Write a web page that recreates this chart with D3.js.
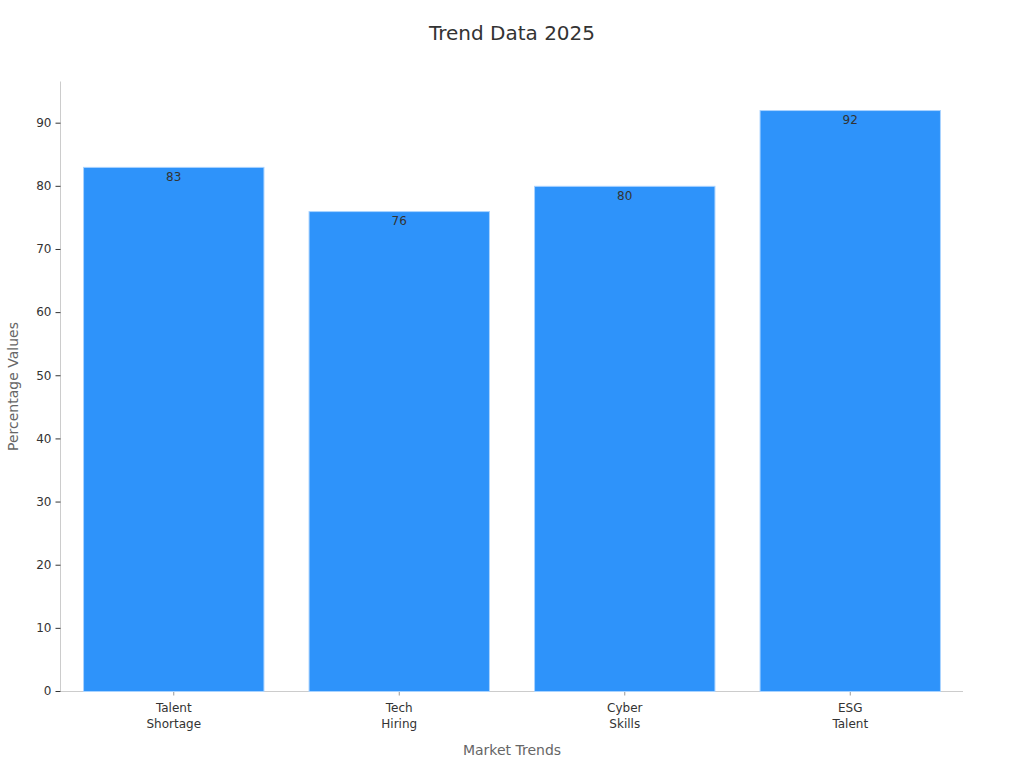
<!DOCTYPE html>
<html><head><meta charset="utf-8">
<script src="https://cdn.jsdelivr.net/npm/d3@7"></script>
<style>body{margin:0;background:#fff;font-family:"DejaVu Sans",sans-serif}</style>
</head><body><svg id="c" width="1024" height="768"></svg>
<script>
const categories = [["Talent","Shortage"],["Tech","Hiring"],["Cyber","Skills"],["ESG","Talent"]];
const values = [83, 76, 80, 92];
const yTicks = [0,10,20,30,40,50,60,70,80,90];
const title = "Trend Data 2025";
const xTitle = "Market Trends";
const yTitle = "Percentage Values";

const svg = d3.select("#c");
const m = {l:61, r:61, t:81.5, b:76.5};
const W = 1024, H = 768;
const names = categories.map(c => c.join(" "));
const x = d3.scaleBand().domain(names).range([m.l, W-m.r]).paddingInner(0.2).paddingOuter(0.1);
const y = d3.scaleLinear().domain([0, 96.6]).range([H-m.b, m.t]);

svg.append("text").attr("x", 512).attr("y", 40).attr("text-anchor","middle")
  .attr("font-size", 20).attr("fill","#333").text(title);

// axes
const ya = svg.append("g").attr("transform",`translate(${m.l - 0.5},0)`)
  .call(d3.axisLeft(y).tickValues(yTicks).tickSize(5).tickPadding(4).offset(0));
ya.select(".domain").attr("stroke","#ccc").attr("d", `M0,${y.range()[1]}V${y.range()[0]}`);
ya.selectAll(".tick line").attr("stroke","#333");
ya.selectAll(".tick text").attr("font-size",12).attr("fill","#333").attr("font-family","DejaVu Sans");

const xa = svg.append("g").attr("transform",`translate(0,${H-m.b})`)
  .call(d3.axisBottom(x).tickSize(4).tickFormat("").offset(0));
xa.select(".domain").attr("stroke","#ccc").attr("d", `M${m.l},0H${W-m.r}`);
xa.selectAll(".tick line").attr("stroke","#999");
xa.selectAll(".tick").each(function(d, i){
  const t = d3.select(this).append("text").attr("fill","#333").attr("font-size",12)
    .attr("text-anchor","middle").attr("font-family","DejaVu Sans");
  categories[i].forEach((s, j) => t.append("tspan").attr("x",0).attr("y", 20 + j*16).text(s));
});

// bars
svg.append("g").selectAll("rect").data(values).join("rect")
  .attr("x", (d,i) => x(names[i])).attr("width", x.bandwidth())
  .attr("y", d => y(d)).attr("height", d => y(0) - y(d))
  .attr("fill","#2E93FA").attr("stroke","#a9d3ff").attr("stroke-width",1);

svg.append("g").selectAll("text").data(values).join("text")
  .attr("x", (d,i) => x(names[i]) + x.bandwidth()/2).attr("y", d => y(d) + 13.5)
  .attr("text-anchor","middle").attr("font-size",12).attr("fill","#333").text(d => d);

svg.append("text").attr("x", (m.l + W - m.r)/2).attr("y", 755).attr("text-anchor","middle")
  .attr("font-size",14).attr("fill","#666").text(xTitle);
svg.append("text").attr("transform",`translate(18,${(m.t + H - m.b)/2}) rotate(-90)`)
  .attr("text-anchor","middle").attr("font-size",14).attr("fill","#666").text(yTitle);
</script></body></html>
